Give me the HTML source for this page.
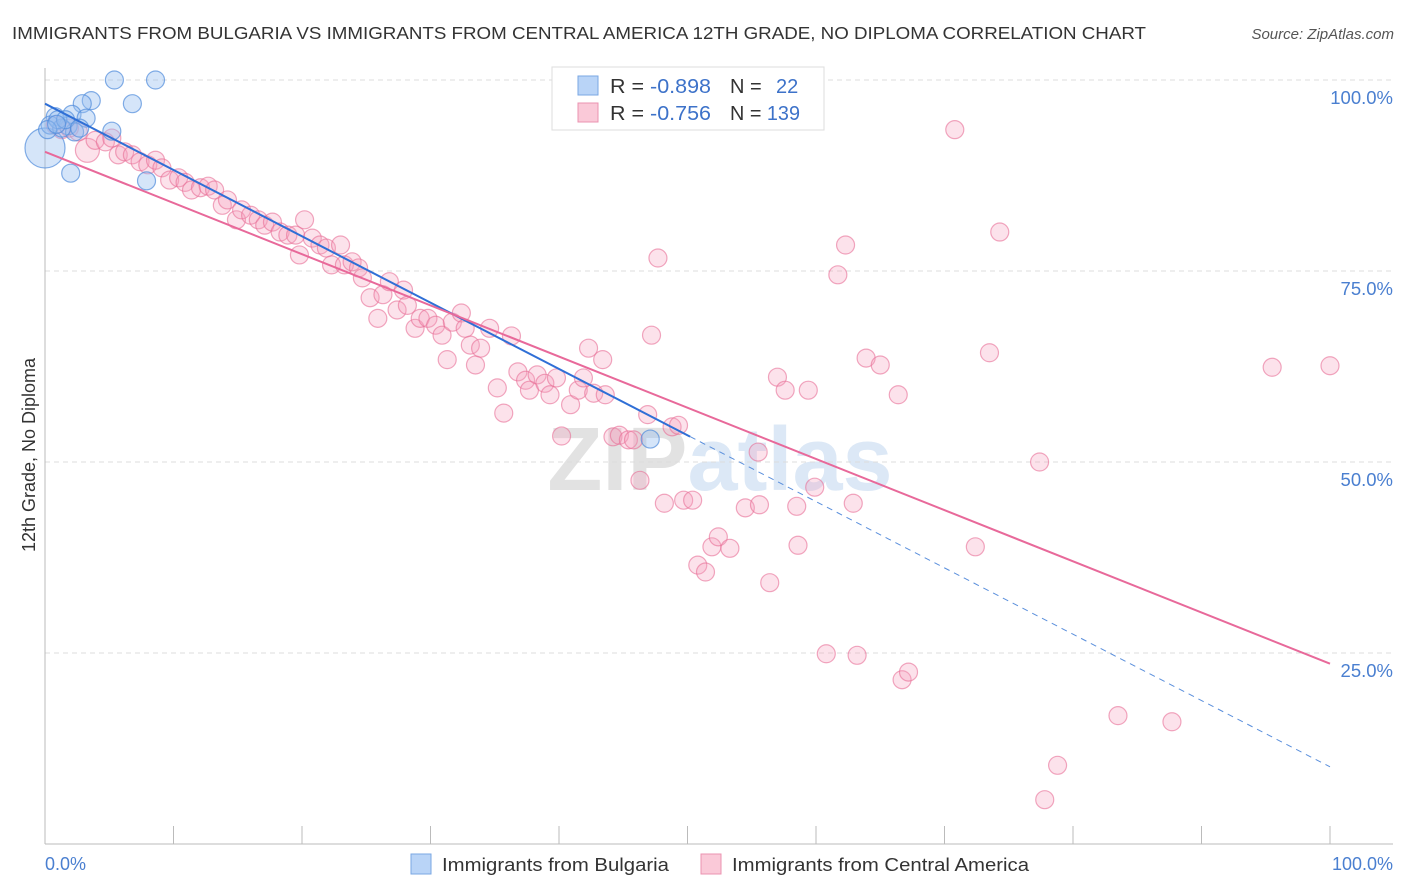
<!DOCTYPE html>
<html><head><meta charset="utf-8"><style>
body{margin:0;background:#fff;font-family:"Liberation Sans",sans-serif;}
svg{display:block}
</style></head><body>
<svg id="chart" width="1406" height="892" viewBox="0 0 1406 892">
<text x="12" y="39" font-size="17.5" fill="#333" textLength="1134" lengthAdjust="spacingAndGlyphs">IMMIGRANTS FROM BULGARIA VS IMMIGRANTS FROM CENTRAL AMERICA 12TH GRADE, NO DIPLOMA CORRELATION CHART</text>
<text x="1394" y="39" font-size="15" fill="#555" font-style="italic" text-anchor="end">Source: ZipAtlas.com</text>
<text x="720" y="490" font-size="90" font-weight="bold" fill="#e6e6e6" text-anchor="middle"><tspan fill="#e2e2e2">ZIP</tspan><tspan fill="#dce8f6">atlas</tspan></text>
<g id="grid"></g>
<g id="axes"></g>
<g id="pts"></g>
<g id="lines"></g>
<text transform="translate(35,455) rotate(-90)" font-size="18" fill="#333" text-anchor="middle">12th Grade, No Diploma</text>
<text x="45" y="870" font-size="18" fill="#4a7fd0">0.0%</text>
<text x="1393" y="870" font-size="18" fill="#4a7fd0" text-anchor="end">100.0%</text>
<g>
<rect x="552" y="67" width="272" height="63" fill="#fff" stroke="#ddd"/>
<rect x="578" y="76" width="20" height="19" fill="#b9d4f7" stroke="#7aa7e3"/>
<rect x="578" y="103" width="20" height="19" fill="#fac9d8" stroke="#eb93b0"/>
<text x="610" y="93" font-size="20" fill="#333" textLength="101" lengthAdjust="spacingAndGlyphs">R = <tspan fill="#3d72c9">-0.898</tspan></text>
<text x="730" y="93" font-size="20" fill="#333">N = <tspan fill="#3d72c9" x="776">22</tspan></text>
<text x="610" y="120" font-size="20" fill="#333" textLength="101" lengthAdjust="spacingAndGlyphs">R = <tspan fill="#3d72c9">-0.756</tspan></text>
<text x="730" y="120" font-size="20" fill="#333" textLength="70" lengthAdjust="spacingAndGlyphs">N = <tspan fill="#3d72c9">139</tspan></text>
</g>
<g>
<rect x="411" y="854" width="20" height="20" fill="#b9d4f7" stroke="#7aa7e3"/>
<text x="442" y="871" font-size="18.5" fill="#333" textLength="227" lengthAdjust="spacingAndGlyphs">Immigrants from Bulgaria</text>
<rect x="701" y="854" width="20" height="20" fill="#fac9d8" stroke="#eb93b0"/>
<text x="732" y="871" font-size="18.5" fill="#333" textLength="297" lengthAdjust="spacingAndGlyphs">Immigrants from Central America</text>
</g>
</svg>
<script>
const yTicks=[100,75,50,25];
const yTickLabels=["100.0%","75.0%","50.0%","25.0%"];
const xTicks=[0,10,20,30,40,50,60,70,80,90,100];
const blueX=[5.4,8.6,6.8,3.6,2.9,0.8,2.1,3.2,5.2,1.8,2.3,7.9,2.0,0,47.1,0.4,1.3,1.0,1.6,0.2,2.7,0.9];
const blueY=[100,100,96.9,97.3,96.9,95.2,95.5,95.0,93.3,94.0,93.2,86.8,87.8,91.1,53.0,94.1,93.7,94.8,94.8,93.5,93.7,94.2];
const pinkX=[0.8,1.3,1.9,2.6,3.3,3.9,4.7,5.2,5.7,6.2,6.8,7.4,8.0,8.6,9.1,9.7,10.4,10.9,11.4,12.1,12.7,13.2,13.8,14.2,14.9,15.3,16.0,16.6,17.1,17.7,18.3,18.9,19.5,19.8,20.2,20.8,21.4,21.9,22.3,23.0,23.3,23.9,24.4,24.7,25.3,25.9,26.3,26.8,27.4,27.9,28.2,28.8,29.2,29.8,30.4,30.9,31.3,31.7,32.4,32.7,33.1,33.5,33.9,34.6,35.2,35.7,36.3,36.8,37.4,37.7,38.3,38.9,39.3,39.8,40.2,40.9,41.5,41.9,42.3,42.7,43.4,43.6,44.2,44.7,45.4,45.8,46.3,46.9,47.2,47.7,48.2,48.8,49.7,50.4,50.8,51.4,51.9,52.4,53.3,54.5,55.5,55.6,56.4,57.0,57.6,58.5,58.6,59.4,59.9,60.8,61.7,62.3,62.9,63.2,63.9,65.0,66.4,66.7,67.2,70.8,73.5,74.3,72.4,77.4,77.8,78.8,83.5,87.7,95.5,100,54.1,49.3];
const pinkY=[94.1,93.5,93.7,93.2,90.8,92.1,91.9,92.4,90.2,90.6,90.2,89.3,88.9,89.5,88.5,86.9,87.2,86.6,85.6,85.9,86.1,85.6,83.6,84.3,81.7,83.0,82.3,81.7,81.0,81.4,80.1,79.7,79.7,77.1,81.7,79.3,78.4,78.0,75.8,78.4,75.8,76.2,75.4,74.1,71.5,68.8,71.9,73.6,69.9,72.5,70.5,67.5,68.8,68.8,67.9,66.6,63.4,68.3,69.5,67.5,65.3,62.7,64.9,67.5,59.7,56.4,66.5,61.8,60.7,59.4,61.4,60.3,58.8,61.0,53.4,57.5,59.4,61.0,64.9,59.0,63.4,58.8,53.3,53.5,52.9,52.9,47.6,56.2,66.6,76.7,44.6,54.6,45.0,45.0,36.5,35.6,38.9,40.2,38.7,44.0,51.3,44.4,34.2,61.1,59.4,44.2,39.1,59.4,46.7,24.9,74.5,78.4,44.6,24.7,63.6,62.7,58.8,21.5,22.5,93.5,64.3,80.1,38.9,50.0,5.8,10.3,16.8,16.0,62.4,62.6,100,54.8];
const blueFit=[96.9,10.1];
const pinkFit=[90.6,23.6];
const NS="http://www.w3.org/2000/svg";
const sx=v=>45+v*12.85, sy=v=>844-v*7.64;
function mk(tag,attrs,parent){const e=document.createElementNS(NS,tag);for(const k in attrs)e.setAttribute(k,attrs[k]);parent.appendChild(e);return e;}
const grid=document.getElementById('grid'),axes=document.getElementById('axes'),pts=document.getElementById('pts'),lines=document.getElementById('lines');
yTicks.forEach((t,i)=>{
 const l=mk('line',{x1:45,x2:1393,y1:sy(t),y2:sy(t),stroke:'#dcdcdc','stroke-dasharray':'5,4'},grid);
 
 
 const tx=mk('text',{x:1393,y:sy(t)+24,'font-size':18.5,fill:'#4a7fd0','text-anchor':'end'},grid);
 tx.textContent=yTickLabels[i];
 
 
});
const ya=mk('line',{x1:45,x2:45,y1:68,y2:844,stroke:'#bbb'},axes);


const xa=mk('line',{x1:45,x2:1393,y1:844,y2:844,stroke:'#bbb'},axes);


xTicks.forEach(t=>{
 const l=mk('line',{x1:sx(t),x2:sx(t),y1:826,y2:844,stroke:'#bbb'},axes);
 
 
});
pinkX.forEach((x,i)=>{
 const c=mk('circle',{cx:sx(x),cy:sy(pinkY[i]),r:(i==4?12:9),fill:'rgba(246,160,190,0.3)',stroke:'rgba(232,110,150,0.6)','stroke-width':1.2},pts);
 
 
});
blueX.forEach((x,i)=>{
 const c=mk('circle',{cx:sx(x),cy:sy(blueY[i]),r:(i==13?20:9),fill:'rgba(150,190,240,0.4)',stroke:'rgba(80,140,220,0.7)','stroke-width':1.2},pts);
 
 
});
const bAt=x=>blueFit[0]+(blueFit[1]-blueFit[0])*x/100;
const b1=mk('line',{x1:sx(0),y1:sy(bAt(0)),x2:sx(50.2),y2:sy(bAt(50.2)),stroke:'#2f6fd6','stroke-width':2},lines);


const b2=mk('line',{x1:sx(50.2),y1:sy(bAt(50.2)),x2:sx(100),y2:sy(bAt(100)),stroke:'#5a8fdc','stroke-width':1,'stroke-dasharray':'6,5'},lines);


const p1=mk('line',{x1:sx(0),y1:sy(pinkFit[0]),x2:sx(100),y2:sy(pinkFit[1]),stroke:'#e8699a','stroke-width':2},lines);


</script>
</body></html>
